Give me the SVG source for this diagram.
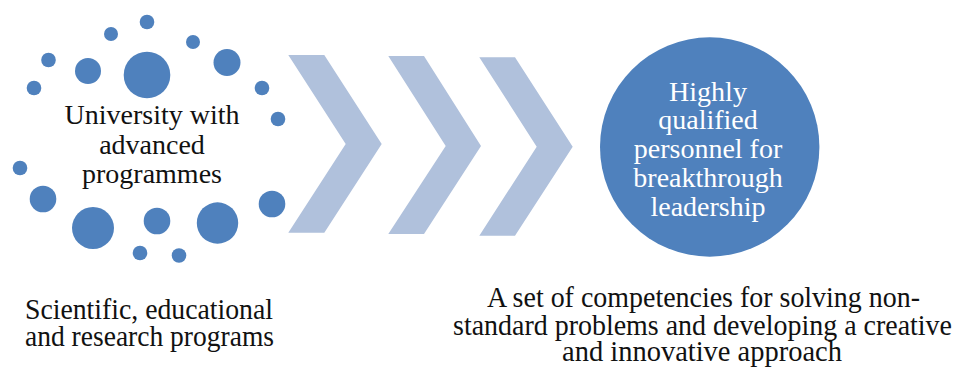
<svg xmlns="http://www.w3.org/2000/svg" width="956" height="367" viewBox="0 0 956 367">
  <style>
    .dot { fill: #4F81BD; }
    .chev { fill: #B0C1DC; }
    text, tspan { font-family: "Liberation Serif", "Times New Roman", Times, serif !important; }
  </style>
  <rect width="956" height="367" fill="#ffffff"/>

  <!-- Ring of dots around the university label -->
  <g id="university">
    <g id="dots">
      <circle class="dot" cx="147" cy="22" r="7.3"/>
      <circle class="dot" cx="111" cy="34" r="7"/>
      <circle class="dot" cx="193" cy="42" r="7"/>
      <circle class="dot" cx="48.5" cy="60" r="7.3"/>
      <circle class="dot" cx="88" cy="71" r="13"/>
      <circle class="dot" cx="147" cy="75" r="23.3"/>
      <circle class="dot" cx="227" cy="62.5" r="13.5"/>
      <circle class="dot" cx="34" cy="88" r="7.3"/>
      <circle class="dot" cx="262" cy="88" r="7.3"/>
      <circle class="dot" cx="278" cy="119" r="7.3"/>
      <circle class="dot" cx="20" cy="168" r="7.3"/>
      <circle class="dot" cx="43" cy="199" r="13.3"/>
      <circle class="dot" cx="272" cy="204" r="13.3"/>
      <circle class="dot" cx="93" cy="228" r="21"/>
      <circle class="dot" cx="157" cy="221" r="13.3"/>
      <circle class="dot" cx="217.5" cy="223" r="20.7"/>
      <circle class="dot" cx="140" cy="253" r="7.3"/>
      <circle class="dot" cx="179" cy="255.5" r="7.3"/>
    </g>
    <text x="152" y="124" fill="#111" text-anchor="middle" font-size="28" style="font-family: 'Liberation Serif', serif">University with</text>
    <text x="152" y="154" fill="#111" text-anchor="middle" font-size="28" style="font-family: 'Liberation Serif', serif">advanced</text>
    <text x="152" y="183" fill="#111" text-anchor="middle" font-size="28" style="font-family: 'Liberation Serif', serif">programmes</text>
  </g>

  <!-- Process chevrons -->
  <g id="connectors">
    <polygon class="chev" points="288.3,55 324.3,55 381.7,144 324.3,232.7 288.3,232.7 345.7,144"/>
    <polygon class="chev" points="388.3,56 424,56 481,146 424,234 388.3,234 445.7,146"/>
    <polygon class="chev" points="479.3,57.3 515,57.3 572.7,146.7 515,235.7 479.3,235.7 536.7,146.7"/>
  </g>

  <!-- Outcome circle -->
  <g id="personnel">
    <circle class="dot" cx="709.7" cy="147" r="109.7"/>
    <text x="708" y="100.5" fill="#fff" text-anchor="middle" font-size="28" style="font-family: 'Liberation Serif', serif">Highly</text>
    <text x="708" y="129.3" fill="#fff" text-anchor="middle" font-size="28" style="font-family: 'Liberation Serif', serif">qualified</text>
    <text x="708" y="158" fill="#fff" text-anchor="middle" font-size="28" style="font-family: 'Liberation Serif', serif">personnel for</text>
    <text x="708" y="186.8" fill="#fff" text-anchor="middle" font-size="28" style="font-family: 'Liberation Serif', serif">breakthrough</text>
    <text x="708" y="215.5" fill="#fff" text-anchor="middle" font-size="28" style="font-family: 'Liberation Serif', serif">leadership</text>
  </g>

  <!-- Captions -->
  <g id="caption-programs">
    <text x="25" y="319" fill="#111" font-size="30" textLength="248" lengthAdjust="spacingAndGlyphs" style="font-family: 'Liberation Serif', serif">Scientific, educational</text>
    <text x="25" y="346" fill="#111" font-size="30" textLength="249" lengthAdjust="spacingAndGlyphs" style="font-family: 'Liberation Serif', serif">and research programs</text>
  </g>
  <g id="caption-competencies">
    <text x="703.5" y="306.5" fill="#111" text-anchor="middle" font-size="30" textLength="433" lengthAdjust="spacingAndGlyphs" style="font-family: 'Liberation Serif', serif">A set of competencies for solving non-</text>
    <text x="702.5" y="334.5" fill="#111" text-anchor="middle" font-size="30" textLength="499" lengthAdjust="spacingAndGlyphs" style="font-family: 'Liberation Serif', serif">standard problems and developing a creative</text>
    <text x="702" y="361" fill="#111" text-anchor="middle" font-size="30" textLength="280" lengthAdjust="spacingAndGlyphs" style="font-family: 'Liberation Serif', serif">and innovative approach</text>
  </g>
</svg>
